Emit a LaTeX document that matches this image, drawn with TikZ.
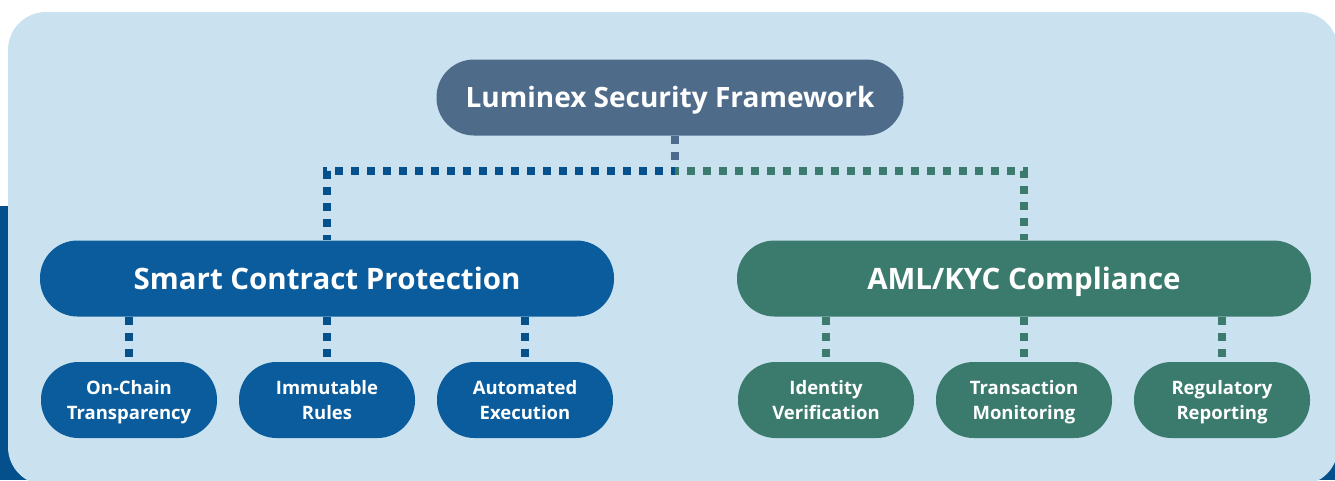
\documentclass[tikz,border=0pt]{standalone}
\usepackage{fontspec}
\setmainfont{Open Sans}
\definecolor{bgl}{HTML}{CAE2EF}
\definecolor{bgd}{HTML}{03508C}
\definecolor{slate}{HTML}{4F6B8A}
\definecolor{bluen}{HTML}{0B5C9C}
\definecolor{blued}{HTML}{03508C}
\definecolor{greenn}{HTML}{3B7B6D}
\tikzset{
  pill/.style={rectangle, rounded corners=37.5pt, minimum height=76pt, inner sep=0pt, text=white, font=\bfseries, align=center},
  topbox/.style={pill, fill=slate, minimum width=467pt, font=\bfseries\fontsize{28}{32}\selectfont, text height=20pt, text depth=0pt},
  midbox/.style={pill, minimum width=574pt, font=\bfseries\fontsize{29.5}{34}\selectfont, text height=21pt, text depth=0pt},
  leafbox/.style={pill, minimum width=176pt, font=\bfseries\fontsize{18.5}{25}\selectfont, text height=38.2pt, text depth=0pt},
  dots/.style={line width=8pt, dash pattern=on 8pt off 8pt},
}
\begin{document}
\begin{tikzpicture}[x=1pt,y=-1pt]
\useasboundingbox (0,0) rectangle (1335,480);
\fill[bgd] (0,206) rectangle (1335,480);
\fill[bgl, rounded corners=38pt] (8,12) rectangle (1338,485);

\node[topbox] (top) at (670,97.5) {Luminex Security Framework};
\node[midbox, fill=bluen] (smart) at (327,278.5) {Smart Contract Protection};
\node[midbox, fill=greenn] (aml) at (1024,278.5) {AML/KYC Compliance};

\node[leafbox, fill=bluen] (l1) at (129,400) {On-Chain\\Transparency};
\node[leafbox, fill=bluen] (l2) at (327,400) {Immutable\\Rules};
\node[leafbox, fill=bluen] (l3) at (525,400) {Automated\\Execution};
\node[leafbox, fill=greenn] (r1) at (826,400) {Identity\\Verification};
\node[leafbox, fill=greenn] (r2) at (1024,400) {Transaction\\Monitoring};
\node[leafbox, fill=greenn] (r3) at (1222,400) {Regulatory\\Reporting};

\coordinate (j) at (675,171);
\draw[dots, blued, dash phase=4pt] (j) -| (smart.north);
\draw[dots, greenn, dash phase=4pt] (j) -| (aml.north);
\draw[dots, slate] (top.south -| j) -- ([yshift=4pt]j);

\foreach \c/\p in {l1/smart, l2/smart, l3/smart}
  \draw[dots, blued] (\c.north |- \p.south) -- (\c.north);
\foreach \c/\p in {r1/aml, r2/aml, r3/aml}
  \draw[dots, greenn] (\c.north |- \p.south) -- (\c.north);
\end{tikzpicture}
\end{document}
